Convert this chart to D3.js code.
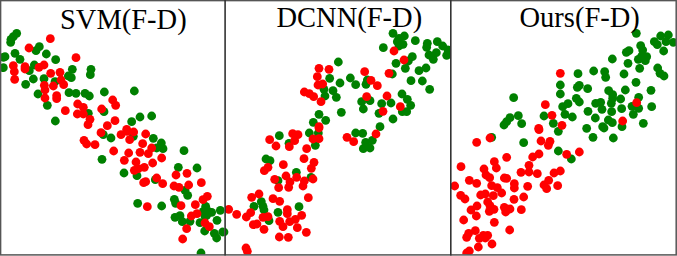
<!DOCTYPE html>
<html>
<head>
<meta charset="utf-8">
<script src="https://cdnjs.cloudflare.com/ajax/libs/d3/7.8.5/d3.min.js"></script>
<style>
html, body { margin: 0; padding: 0; background: #fff; }
svg { display: block; }
</style>
</head>
<body>
<div id="chart"></div>
<script>
const width = 677;
const height = 256;

const titles = ['SVM(F-D)', 'DCNN(F-D)', 'Ours(F-D)'];

// points, [x, y] in thirds of a pixel from each panel's crop
const svmGreen = [[50,100],[40,110],[33,118],[32,127],[15,170],[10,172],[45,160],[60,178],[10,203],[118,140],[108,152],[139,162],[167,179],[103,195],[88,212],[100,237],[77,253],[132,236],[217,208],[205,228],[214,233],[273,208],[271,224],[165,245],[114,282],[207,278],[228,280],[255,280],[268,288],[313,276],[403,273],[142,316],[166,363],[312,335],[265,340],[395,365],[420,351],[455,348],
  [310,404],[333,414],[400,409],[460,415],[484,429],[470,444],[489,446],[552,452],[306,478],[372,519],[411,527],[466,539],[535,502],[591,504],[555,571],[563,586],[523,598],[527,610],[413,610],[485,618],[525,652],[540,647],[547,665],[570,664],[600,668],[617,619],[610,634],[620,646],[635,637],[661,631],[651,661],[614,693],[643,700],[650,714],[668,696],[603,759],[625,634],[615,649]];
const svmRed = [[151,116],[87,144],[228,173],[40,197],[43,215],[44,238],[75,200],[75,207],[117,202],[132,195],[152,220],[180,217],[183,240],[191,254],[160,258],[133,256],[135,270],[135,294],[170,287],[170,296],[233,312],[250,322],[232,342],[250,342],[338,300],[347,316],[305,327],[196,332],[270,358],[264,374],[345,362],[322,377],[380,388],
  [303,398],[363,404],[381,394],[401,396],[437,402],[252,421],[260,432],[285,434],[389,419],[428,431],[455,444],[445,461],[420,457],[386,459],[341,453],[373,481],[408,486],[458,489],[485,474],[433,502],[415,506],[403,511],[528,525],[561,520],[604,548],[470,534],[437,545],[431,548],[488,551],[522,558],[537,562],[566,555],[622,589],[609,599],[442,620],[543,617],[586,614],[591,641],[574,648],[615,669],[628,680],[560,686],[548,717]];

const dcnnGreen = [[507,100],[541,108],[525,115],[520,125],[537,133],[525,138],[574,122],[478,143],[610,130],[608,142],[640,125],[656,138],[672,150],[668,166],[637,158],[615,165],[628,178],[565,170],[553,183],[516,190],[544,205],[505,222],[585,212],[606,204],[561,242],[595,243],[617,268],[343,186],[317,235],[348,249],[379,234],[395,254],[430,240],[426,253],[300,268],[327,272],[337,292],[303,288],[534,282],[550,298],[560,316],[548,335],[535,335],[413,305],[438,302],[418,327],[473,311],[501,309],[465,340],[507,357],[352,337],[285,343],[305,361],[268,367],[468,380],
  [166,407],[256,399],[283,399],[195,430],[274,436],[395,399],[416,400],[445,421],[425,427],[418,446],[438,444],[126,477],[138,482],[217,517],[162,542],[261,532],[112,605],[117,619],[120,630],[90,619],[162,637],[225,620],[135,662],[0,696]];
const dcnnRed = [[510,153],[540,180],[495,220],[285,205],[315,208],[280,230],[422,215],[282,255],[296,252],[441,241],[460,257],[241,276],[256,281],[269,290],[291,305],[428,290],[489,288],[529,320],[477,334],[285,380],
  [285,384],[206,401],[222,404],[212,422],[137,419],[156,438],[196,440],[248,446],[267,417],[285,416],[369,412],[389,425],[456,402],[240,476],[270,487],[262,505],[178,494],[132,502],[121,512],[186,528],[152,538],[218,532],[198,546],[241,543],[267,537],[164,563],[194,562],[237,558],[105,582],[83,592],[147,596],[167,604],[253,593],[14,628],[38,643],[67,651],[80,638],[190,629],[190,641],[233,646],[117,652],[132,650],[167,664],[214,658],[197,665],[88,674],[99,672],[177,680],[220,683],[120,688],[247,697],[166,711],[193,712],[66,744],[70,754]];

const oursGreen = [[559,100],[632,108],[655,105],[648,125],[670,127],[613,125],[622,134],[641,153],[572,137],[578,150],[537,152],[529,157],[575,168],[590,170],[565,178],[586,182],[487,177],[534,190],[569,205],[431,213],[384,221],[464,215],[467,232],[522,222],[623,204],[630,220],[642,228],[558,247],[331,255],[331,282],[388,256],[382,262],[413,266],[476,272],[526,270],[603,271],[488,284],[488,295],[484,310],[485,335],[512,297],[515,326],[379,295],[388,306],[354,311],[338,320],[345,343],[367,351],[282,348],[310,370],[191,293],[205,347],[180,353],[170,365],[162,375],[215,371],[437,310],[452,307],[456,328],[414,334],[436,354],[566,292],[546,319],[566,325],[605,320],[550,343],[475,360],[487,368],[458,380],[410,385],[580,370],
  [125,412],[221,428],[325,394],[325,453],[364,477],[429,412],[490,414],[462,384],[516,380]];
const oursRed = [[331,220],[286,314],[306,346],[560,308],[518,363],[336,376],[266,385],
  [120,414],[80,427],[267,389],[273,423],[300,424],[295,436],[267,462],[248,471],[170,472],[350,463],[388,456],[133,485],[33,500],[102,507],[139,504],[237,496],[237,516],[213,517],[262,521],[108,525],[119,533],[331,513],[312,519],[163,534],[170,535],[58,541],[80,550],[193,551],[193,564],[296,541],[282,555],[290,566],[323,557],[233,559],[14,558],[125,557],[142,563],[155,579],[130,587],[92,585],[106,582],[32,586],[45,597],[192,598],[221,591],[113,606],[120,617],[81,618],[63,630],[118,634],[132,628],[163,622],[180,627],[167,636],[214,629],[79,648],[41,660],[133,667],[179,690],[76,692],[56,700],[50,712],[88,715],[100,706],[113,706],[106,714],[126,732],[85,741],[58,753],[50,759]];

const panels = [
  { title: titles[0], green: svmGreen, red: svmRed, left: 0, right: 226, clipL: 1, clipR: 224.5, titleX: 60, titleY: 29 },
  { title: titles[1], green: dcnnGreen, red: dcnnRed, left: 224, right: 452, clipL: 225, clipR: 450, titleX: 276.5, titleY: 27 },
  { title: titles[2], green: oursGreen, red: oursRed, left: 450, right: 677, clipL: 451, clipR: 676, titleX: 519.5, titleY: 27 }
];

const svg = d3.select('#chart')
  .append('svg')
  .attr('width', width)
  .attr('height', height)
  .attr('viewBox', `0,0,${width},${height}`);

const y = d3.scaleLinear().domain([0, 768]).range([0, height]);

panels.forEach((p, i) => {
  const x = d3.scaleLinear().domain([0, (p.right - p.left) * 3]).range([p.left, p.right]);

  svg.append('clipPath')
    .attr('id', 'clip-' + i)
    .append('rect')
    .attr('x', p.clipL)
    .attr('y', 1)
    .attr('width', p.clipR - p.clipL)
    .attr('height', 253.5);

  const g = svg.append('g').attr('clip-path', `url(#clip-${i})`);

  g.selectAll('circle.green')
    .data(p.green)
    .join('circle')
    .attr('class', 'green')
    .attr('cx', d => x(d[0]))
    .attr('cy', d => y(d[1]))
    .attr('r', 4.4)
    .attr('fill', '#008000');

  g.selectAll('circle.red')
    .data(p.red)
    .join('circle')
    .attr('class', 'red')
    .attr('cx', d => x(d[0]))
    .attr('cy', d => y(d[1]))
    .attr('r', 4.4)
    .attr('fill', '#ff0000');

  svg.append('text')
    .attr('x', p.titleX)
    .attr('y', p.titleY)
    .attr('font-family', '"Liberation Serif", serif')
    .attr('font-size', 28.5)
    .attr('fill', '#000')
    .text(p.title);
});

// panel frames
svg.append('rect')
  .attr('x', 0.6)
  .attr('y', 0.6)
  .attr('width', 675.6)
  .attr('height', 254.3)
  .attr('fill', 'none')
  .attr('stroke', '#555')
  .attr('stroke-width', 1.5);

[225.1, 450.8].forEach(v => {
  svg.append('line')
    .attr('x1', v)
    .attr('x2', v)
    .attr('y1', 0)
    .attr('y2', 255.5)
    .attr('stroke', '#333')
    .attr('stroke-width', 1.6);
});
</script>
</body>
</html>
